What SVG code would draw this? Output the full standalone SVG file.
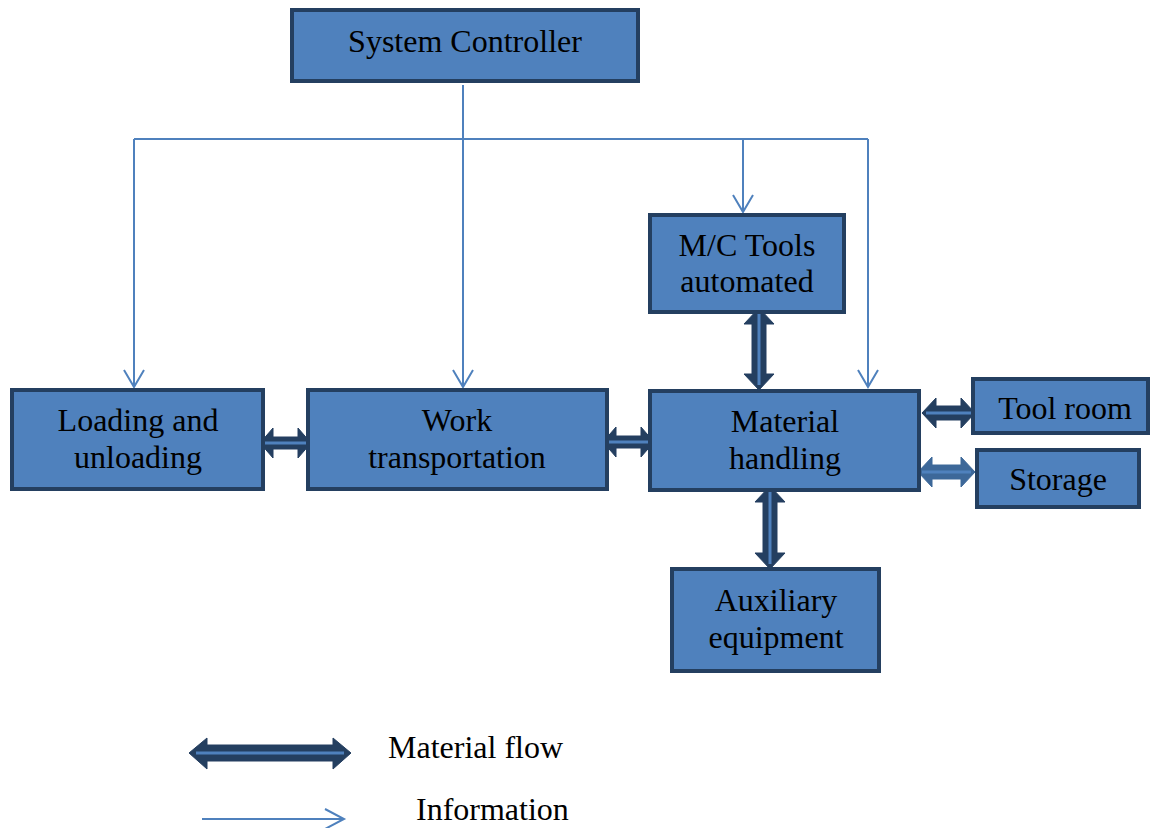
<svg xmlns="http://www.w3.org/2000/svg" width="1152" height="828" viewBox="0 0 1152 828">
<style>
.box{fill:#4F81BD;stroke:#243F60;stroke-width:4}
.t{font-family:"Liberation Serif","Times New Roman",serif;font-size:32px;fill:#000;text-anchor:middle}
.lt{font-family:"Liberation Serif","Times New Roman",serif;font-size:32px;fill:#000}
.info{fill:none;stroke:#4F81BD;stroke-width:2}
.ah{fill:none;stroke:#4F81BD;stroke-width:2}
.mf{fill:#243F60;stroke:#243F60;stroke-width:1}
.mf2{fill:#3D6899;stroke:#3D6899;stroke-width:1}
.in{stroke:#4F81BD;stroke-width:3;fill:none}
</style>
<rect width="1152" height="828" fill="#fff"/>
<g id="connectors">
  <path class="info" d="M463,85 V386 M134,139 H868 M134,139 V386 M743,139 V211 M868,139 V386"/>
  <path class="ah" d="M453,370 L463,387 L473,370 M124,370 L134,387 L144,370 M733,195 L743,212 L753,195 M858,370 L868,387 L878,370"/>
  <path class="mf" d="M260,443 L273,428 L273,437 L298,437 L298,428 L311,443 L298,458 L298,449 L273,449 L273,458 Z"/>
  <path class="in" d="M264,443 H307"/>
  <path class="mf" d="M603,442 L616,427 L616,436 L641,436 L641,427 L654,442 L641,457 L641,448 L616,448 L616,457 Z"/>
  <path class="in" d="M607,442 H650"/>
  <path class="mf" d="M759,308 L774,324 L766,324 L766,374 L774,374 L759,390 L744,374 L752,374 L752,324 L744,324 Z"/>
  <path class="in" d="M759,313 V385"/>
  <path class="mf" d="M770,486 L785,502 L777,502 L777,553 L785,553 L770,569 L755,553 L763,553 L763,502 L755,502 Z"/>
  <path class="in" d="M770,491 V564"/>
  <path class="mf" d="M922,413 L936,398 L936,406 L961,406 L961,398 L975,413 L961,428 L961,420 L936,420 L936,428 Z"/>
  <path class="in" d="M926,413 H971"/>
  <path class="mf2" d="M918,472 L932,457 L932,465 L961,465 L961,457 L975,472 L961,487 L961,479 L932,479 L932,487 Z"/>
  <path class="in" d="M922,472 H971"/>
</g>
<g id="system-controller"><rect class="box" x="292" y="10" width="346" height="71"/><text class="t" x="465" y="52">System Controller</text></g>
<g id="mc-tools"><rect class="box" x="650" y="215" width="194" height="97"/><text class="t" x="747" y="256">M/C Tools</text><text class="t" x="747" y="292">automated</text></g>
<g id="loading"><rect class="box" x="12" y="390" width="251" height="99"/><text class="t" x="138" y="431">Loading and</text><text class="t" x="138" y="468">unloading</text></g>
<g id="work-transportation"><rect class="box" x="308" y="390" width="299" height="99"/><text class="t" x="457" y="431">Work</text><text class="t" x="457" y="468">transportation</text></g>
<g id="material-handling"><rect class="box" x="650" y="391" width="269" height="99"/><text class="t" x="785" y="432">Material</text><text class="t" x="785" y="469">handling</text></g>
<g id="tool-room"><rect class="box" x="973" y="379" width="175" height="54"/><text class="t" x="1065" y="419">Tool room</text></g>
<g id="storage"><rect class="box" x="977" y="450" width="162" height="57"/><text class="t" x="1058" y="490">Storage</text></g>
<g id="auxiliary"><rect class="box" x="672" y="569" width="207" height="102"/><text class="t" x="776" y="611">Auxiliary</text><text class="t" x="776" y="648">equipment</text></g>
<g id="legend">
  <path class="mf" d="M189,753 L207,738 L207,745 L333,745 L333,738 L351,753 L333,769 L333,761 L207,761 L207,769 Z"/>
  <path class="in" d="M196,753 H344"/>
  <path class="info" d="M202,819 H343"/>
  <path class="ah" d="M325,809 L344,819 L325,829"/>
  <text class="lt" x="388" y="758">Material flow</text>
  <text class="lt" x="416" y="820">Information</text>
</g>
</svg>
